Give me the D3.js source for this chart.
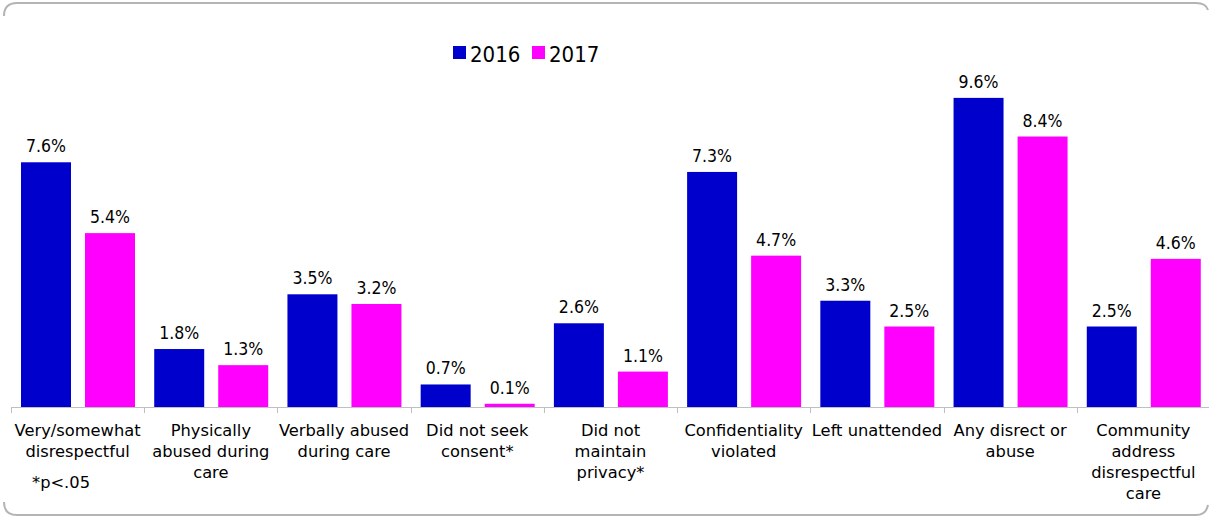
<!DOCTYPE html>
<html>
<head>
<meta charset="utf-8">
<script src="https://cdn.jsdelivr.net/npm/d3@7"></script>
<style>
  html, body { margin: 0; padding: 0; background: #fff; }
  svg { display: block; }
  text { font-family: "DejaVu Sans Condensed", "DejaVu Sans", sans-serif; font-stretch: condensed; fill: #000; }
  text.cat { font-family: "DejaVu Sans", sans-serif; font-stretch: normal; }
</style>
</head>
<body>
<svg id="chart" width="1209" height="517"></svg>
<script>
// Categories (each label split into its displayed lines)
const categories = [
  "Very/somewhat|disrespectful",
  "Physically|abused during|care",
  "Verbally abused|during care",
  "Did not seek|consent*",
  "Did not|maintain|privacy*",
  "Confidentiality|violated",
  "Left unattended",
  "Any disrect or|abuse",
  "Community|address|disrespectful|care"
];
const years = ["2016", "2017"];
const values2016 = [7.6, 1.8, 3.5, 0.7, 2.6, 7.3, 3.3, 9.6, 2.5];
const values2017 = [5.4, 1.3, 3.2, 0.1, 1.1, 4.7, 2.5, 8.4, 4.6];
const footnote = "*p<.05";

const colors = { "2016": "#0000CC", "2017": "#FF00FF" };

const svg = d3.select("#chart");

// Frame: top and bottom edges with rounded corners
const frame = svg.append("g").attr("fill", "none").attr("stroke", "#b4b4b4").attr("stroke-width", 2);
frame.append("path").attr("d", "M4,16 Q4,3 17,3 L1196,3 Q1206,3 1208,10");
frame.append("path").attr("d", "M4,502 Q4,515 17,515 L1196,515 Q1206,515 1208,505");

const x0 = d3.scaleBand().domain(categories).range([11, 1210]).paddingInner(0).paddingOuter(0);
const x1 = d3.scaleBand().domain(years).range([10, 124]).paddingInner(0.219).paddingOuter(0);
const y = d3.scaleLinear().domain([0, 10]).range([407, 85]);

const data = categories.map((c, i) => ({
  cat: c,
  vals: [{ year: "2016", v: values2016[i] }, { year: "2017", v: values2017[i] }]
}));

const groups = svg.append("g").selectAll("g").data(data).join("g")
  .attr("transform", d => `translate(${x0(d.cat)},0)`);

groups.selectAll("rect").data(d => d.vals).join("rect")
  .attr("x", d => x1(d.year))
  .attr("width", x1.bandwidth())
  .attr("y", d => y(d.v))
  .attr("height", d => y(0) - y(d.v))
  .attr("fill", d => colors[d.year]);

groups.selectAll("text.val").data(d => d.vals).join("text")
  .attr("class", "val")
  .attr("x", d => x1(d.year) + x1.bandwidth() / 2)
  .attr("y", d => y(d.v) - 10)
  .attr("text-anchor", "middle")
  .attr("font-size", 17.5)
  .text(d => d.v.toFixed(1) + "%");

// Category axis with boundary ticks
const axis = svg.append("g").attr("stroke", "#bfbfbf").attr("stroke-width", 1);
axis.append("line").attr("x1", 11).attr("x2", 1209).attr("y1", 407.5).attr("y2", 407.5);
const bounds = categories.map(c => x0(c)).concat([x0.range()[1] - 1]);
axis.selectAll("line.tick").data(bounds).join("line")
  .attr("class", "tick")
  .attr("x1", d => Math.round(d) + 0.5).attr("x2", d => Math.round(d) + 0.5)
  .attr("y1", 407).attr("y2", 413);

const labels = svg.append("g").selectAll("text").data(categories).join("text")
  .attr("class", "cat")
  .attr("text-anchor", "middle")
  .attr("font-size", 16.3)
  .attr("x", d => x0(d) + x0.bandwidth() / 2)
  .attr("y", 436);
labels.selectAll("tspan").data(d => d.split("|")).join("tspan")
  .attr("x", function () { return d3.select(this.parentNode).attr("x"); })
  .attr("dy", (d, i) => i === 0 ? 0 : 21)
  .text(d => d);

svg.append("text")
  .attr("class", "cat")
  .attr("x", 61).attr("y", 488)
  .attr("text-anchor", "middle")
  .attr("font-size", 16.3)
  .text(footnote);

// Legend
const legend = svg.append("g");
const legendX = [453, 532];
years.forEach((yr, i) => {
  legend.append("rect").attr("x", legendX[i]).attr("y", 46).attr("width", 13).attr("height", 13).attr("fill", colors[yr]);
  legend.append("text").attr("x", legendX[i] + 17).attr("y", 61.5).attr("font-size", 22).text(yr);
});
</script>
</body>
</html>
